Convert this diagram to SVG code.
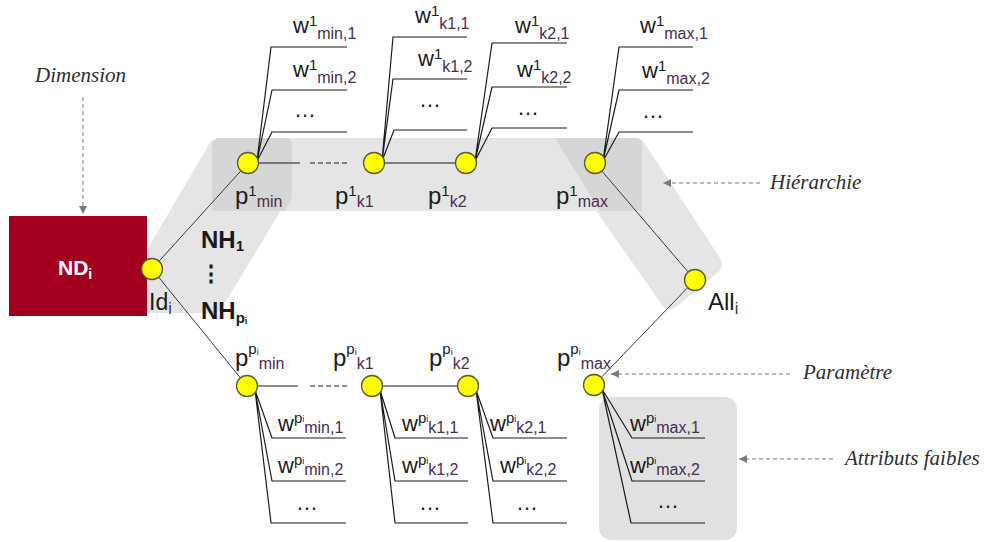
<svg xmlns="http://www.w3.org/2000/svg" width="986" height="542" viewBox="0 0 986 542">
<defs>
<style>
.t{font-family:"Liberation Sans",Arial,sans-serif;fill:#1a1a1a}
.p{font-size:24px}
.w{font-size:22px}
.sup{font-size:15px}
.psup{font-size:15px}
.sub{font-size:16px;fill:#4a2c55}
.ii{font-size:9px}
.it{font-family:"Liberation Serif","Times New Roman",serif;font-style:italic;font-size:21px;fill:#2e2e2e}
.nd{fill:#ffff00;stroke:#5a5a3a;stroke-width:1.3}
.cn{fill:none;stroke:#1a1a1a;stroke-width:1.2}
.cg{fill:none;stroke:#3a3a3a;stroke-width:1}
.da{fill:none;stroke:#7a7a7a;stroke-width:1;stroke-dasharray:4 3}
.light{fill:#e5e5e5}
.dark{fill:#d6d6d6}
.bold{font-weight:bold}
</style>
<marker id="ah" viewBox="0 0 10 10" refX="10" refY="5" markerWidth="9" markerHeight="8" markerUnits="userSpaceOnUse" orient="auto">
<path d="M0,0 L10,5 L0,10 z" fill="#7a7a7a"/>
</marker>
</defs>
<rect width="986" height="542" fill="#ffffff"/>

<g id="bands">
<rect class="light" x="212" y="138" width="430" height="73" rx="8"/>
<path class="light" d="M220,138 L286,138 Q292,138 292,144 L292,192 L222,308 Q219,313 213,313 L147,313 L147,250 L208,146 Q212,138 220,138 Z"/>
<path class="light" d="M545,138 L636,138 Q642,138 645,144 L720,258 Q725,268 716,274 L676,307 Q668,313 662,305 Z"/>
<path class="dark" d="M220,138 L286,138 Q292,138 292,144 L292,194 Q292,200 288,205 L284,211 L212,211 L212,146 Q212,138 220,138 Z"/>
<path class="dark" d="M555,138 L636,138 Q642,138 642,144 L642,211 L600,211 Z"/>
<rect x="599" y="397" width="138" height="143" rx="12" fill="#e1e1e1"/>
</g>

<g id="connectors">
<line class="cg" x1="152" y1="269" x2="248" y2="163"/>
<line class="cg" x1="152" y1="269" x2="247" y2="386"/>
<line class="cg" x1="595" y1="163" x2="695" y2="280"/>
<line class="cg" x1="695" y1="280" x2="594" y2="385"/>
<line class="cn" x1="248" y1="163" x2="300" y2="163"/>
<line class="cn" x1="310" y1="163" x2="350" y2="163" stroke-dasharray="5 3"/>
<line class="cn" x1="374" y1="163" x2="466" y2="163"/>
<line class="cn" x1="247" y1="386" x2="298" y2="386"/>
<line class="cn" x1="310" y1="386" x2="348" y2="386" stroke-dasharray="5 3"/>
<line class="cn" x1="372" y1="386" x2="468" y2="386"/>
<path class="cn" d="M257,161 L271,47 L347,47 M257,161 L272,90 L347,90 M257,161 L272,132 L347,132"/>
<path class="cn" d="M382,161 L393,37 L467,37 M382,161 L393,79 L467,79 M382,161 L394,130 L467,130"/>
<path class="cn" d="M475,161 L492,43 L567,43 M475,161 L492,87 L567,87 M475,161 L492,128 L567,128"/>
<path class="cn" d="M603,161 L619,47 L693,47 M603,161 L619,90 L693,90 M603,161 L619,132 L693,132"/>
<path class="cn" d="M255,390 L272,438 L346,438 M255,390 L272,481 L346,481 M255,390 L271,523 L346,523"/>
<path class="cn" d="M380,390 L395,438 L468,438 M380,390 L395,481 L468,481 M380,390 L395,523 L468,523"/>
<path class="cn" d="M476,390 L493,438 L567,438 M476,390 L493,481 L567,481 M476,390 L493,523 L567,523"/>
<path class="cn" d="M602,389 L632,438 L705,438 M602,389 L632,481 L705,481 M602,389 L631,523 L705,523"/>
<line class="da" x1="83" y1="97" x2="83" y2="214" marker-end="url(#ah)"/>
<line class="da" x1="760" y1="183" x2="663" y2="183" marker-end="url(#ah)"/>
<line class="da" x1="790" y1="374" x2="611" y2="374" marker-end="url(#ah)"/>
<line class="da" x1="833" y1="459" x2="739" y2="459" marker-end="url(#ah)"/>
</g>

<g id="ND">
<rect x="9" y="216" width="138" height="100" fill="#a3001f"/>
<text x="58" y="275" font-family="Liberation Sans,Arial,sans-serif" font-weight="bold" font-size="21" fill="#ffffff">ND<tspan font-size="14" dy="4">i</tspan></text>
</g>
<g id="Id">
<circle class="nd" cx="152" cy="269" r="10.5"/>
<text class="t" x="149" y="310" font-size="23">Id<tspan class="sub" font-size="14" dy="4" fill="#4a4a9a">i</tspan></text>
</g>
<g id="NH">
<text class="t bold" x="201" y="248" font-size="24">NH<tspan font-size="15" dy="3">1</tspan></text>
<text class="t bold" x="211" y="281" font-size="22" text-anchor="middle" font-family="DejaVu Sans,sans-serif">⋮</text>
<text class="t bold" x="201" y="319" font-size="24">NH<tspan font-size="15" dy="4">p</tspan><tspan font-size="9" dy="1">i</tspan></text>
</g>

<g id="p1min">
<circle class="nd" cx="248" cy="163" r="10.5"/>
<text class="t p" x="235" y="204">p<tspan class="psup" dy="-8">1</tspan><tspan class="sub" dy="11">min</tspan></text>
<text class="t w" x="293" y="33">w<tspan class="sup" dy="-7">1</tspan><tspan class="sub" dy="13">min,1</tspan></text>
<text class="t w" x="293" y="77">w<tspan class="sup" dy="-7">1</tspan><tspan class="sub" dy="13">min,2</tspan></text>
<text class="t w" x="294" y="117">…</text>
</g>
<g id="p1k1">
<circle class="nd" cx="374" cy="163" r="10.5"/>
<text class="t p" x="335" y="204">p<tspan class="psup" dy="-8">1</tspan><tspan class="sub" dy="11">k1</tspan></text>
<text class="t w" x="415" y="23">w<tspan class="sup" dy="-7">1</tspan><tspan class="sub" dy="13">k1,1</tspan></text>
<text class="t w" x="418" y="66">w<tspan class="sup" dy="-7">1</tspan><tspan class="sub" dy="13">k1,2</tspan></text>
<text class="t w" x="419" y="107">…</text>
</g>
<g id="p1k2">
<circle class="nd" cx="466" cy="163" r="10.5"/>
<text class="t p" x="428" y="204">p<tspan class="psup" dy="-8">1</tspan><tspan class="sub" dy="11">k2</tspan></text>
<text class="t w" x="515" y="33">w<tspan class="sup" dy="-7">1</tspan><tspan class="sub" dy="13">k2,1</tspan></text>
<text class="t w" x="517" y="77">w<tspan class="sup" dy="-7">1</tspan><tspan class="sub" dy="13">k2,2</tspan></text>
<text class="t w" x="517" y="115">…</text>
</g>
<g id="p1max">
<circle class="nd" cx="595" cy="163" r="10.5"/>
<text class="t p" x="556" y="204">p<tspan class="psup" dy="-8">1</tspan><tspan class="sub" dy="11">max</tspan></text>
<text class="t w" x="640" y="33">w<tspan class="sup" dy="-7">1</tspan><tspan class="sub" dy="13">max,1</tspan></text>
<text class="t w" x="642" y="78">w<tspan class="sup" dy="-7">1</tspan><tspan class="sub" dy="13">max,2</tspan></text>
<text class="t w" x="642" y="118">…</text>
</g>
<g id="All">
<circle class="nd" cx="695" cy="280" r="10.5"/>
<text class="t" x="708" y="310" font-size="24">All<tspan class="sub" font-size="14" dy="4">i</tspan></text>
</g>

<g id="ppmin">
<circle class="nd" cx="247" cy="386" r="10.5"/>
<text class="t p" x="235" y="366">p<tspan class="psup" dy="-12">p</tspan><tspan class="ii" dy="1">i</tspan><tspan class="sub" dy="14">min</tspan></text>
<text class="t w" x="278" y="431">w<tspan class="sup" dy="-8">p</tspan><tspan class="ii" dy="-1">i</tspan><tspan class="sub" dy="11">min,1</tspan></text>
<text class="t w" x="278" y="473">w<tspan class="sup" dy="-8">p</tspan><tspan class="ii" dy="-1">i</tspan><tspan class="sub" dy="11">min,2</tspan></text>
<text class="t w" x="296" y="510">…</text>
</g>
<g id="ppk1">
<circle class="nd" cx="372" cy="386" r="10.5"/>
<text class="t p" x="333" y="366">p<tspan class="psup" dy="-12">p</tspan><tspan class="ii" dy="1">i</tspan><tspan class="sub" dy="14">k1</tspan></text>
<text class="t w" x="402" y="431">w<tspan class="sup" dy="-8">p</tspan><tspan class="ii" dy="-1">i</tspan><tspan class="sub" dy="11">k1,1</tspan></text>
<text class="t w" x="402" y="473">w<tspan class="sup" dy="-8">p</tspan><tspan class="ii" dy="-1">i</tspan><tspan class="sub" dy="11">k1,2</tspan></text>
<text class="t w" x="419" y="510">…</text>
</g>
<g id="ppk2">
<circle class="nd" cx="468" cy="386" r="10.5"/>
<text class="t p" x="429" y="366">p<tspan class="psup" dy="-12">p</tspan><tspan class="ii" dy="1">i</tspan><tspan class="sub" dy="14">k2</tspan></text>
<text class="t w" x="490" y="431">w<tspan class="sup" dy="-8">p</tspan><tspan class="ii" dy="-1">i</tspan><tspan class="sub" dy="11">k2,1</tspan></text>
<text class="t w" x="500" y="473">w<tspan class="sup" dy="-8">p</tspan><tspan class="ii" dy="-1">i</tspan><tspan class="sub" dy="11">k2,2</tspan></text>
<text class="t w" x="516" y="510">…</text>
</g>
<g id="ppmax">
<circle class="nd" cx="594" cy="385" r="10.5"/>
<text class="t p" x="557" y="366">p<tspan class="psup" dy="-12">p</tspan><tspan class="ii" dy="1">i</tspan><tspan class="sub" dy="14">max</tspan></text>
<text class="t w" x="630" y="431">w<tspan class="sup" dy="-8">p</tspan><tspan class="ii" dy="-1">i</tspan><tspan class="sub" dy="11">max,1</tspan></text>
<text class="t w" x="630" y="473">w<tspan class="sup" dy="-8">p</tspan><tspan class="ii" dy="-1">i</tspan><tspan class="sub" dy="11">max,2</tspan></text>
<text class="t w" x="657" y="508">…</text>
</g>

<g id="annotations">
<text class="it" x="35" y="82">Dimension</text>
<text class="it" x="770" y="189">Hiérarchie</text>
<text class="it" x="803" y="379">Paramètre</text>
<text class="it" x="845" y="465">Attributs faibles</text>
</g>
</svg>
